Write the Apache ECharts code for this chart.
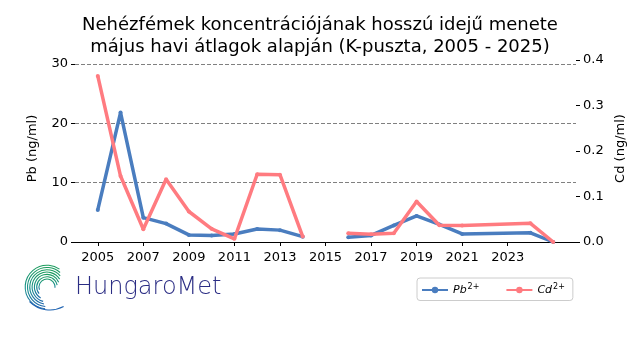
<!DOCTYPE html>
<html>
<head>
<meta charset="utf-8">
<script src="https://cdn.jsdelivr.net/npm/echarts@6/dist/echarts.min.js"></script>
<style>html,body{margin:0;padding:0;background:#fff}#c{width:640px;height:360px}</style>
</head>
<body>
<div id="c"></div>
<script>
const years = [2005,2006,2007,2008,2009,2010,2011,2012,2013,2014,2015,2016,2017,2018,2019,2020,2021,2024,2025];
const pbValues = [5.4,21.8,4.1,3.1,1.2,1.1,1.35,2.2,2.0,0.9,null,0.8,1.1,2.8,4.4,2.95,1.35,1.55,0];
const cdValues = [0.365,0.145,0.028,0.138,0.067,0.029,0.007,0.149,0.148,0.012,null,0.019,0.017,0.019,0.089,0.037,0.036,0.041,0];
const xTickLabels = [2005,2007,2009,2011,2013,2015,2017,2019,2021,2023];
const pbTicks = [0,10,20,30];
const cdTicks = [0,0.1,0.2,0.3,0.4];
const titleText = 'Nehézfémek koncentrációjának hosszú idejű menete\nmájus havi átlagok alapján (K-puszta, 2005 - 2025)';

const pbData = years.map((y,i)=>[y,pbValues[i]]);
const cdData = years.map((y,i)=>[y,cdValues[i]]);

const FONT = 'DejaVu Sans';
const chart = echarts.init(document.getElementById('c'), null, {renderer:'canvas'});

const grad = new echarts.graphic.LinearGradient(0,0,0,1,[
  {offset:0,color:'#1e9e58'},{offset:0.55,color:'#178f8c'},{offset:1,color:'#2062b0'}
], false);
const arcs = [];
const cx = 47, cy = 287;
const rs = [8,10.3,12.6,14.9,17.2,19.5,21.8];
const starts = [160,140,120,105,100,95,95];
const ends = [365,350,338,328,320,312,305];
rs.forEach((r,i)=>{
  arcs.push({type:'arc', shape:{cx:cx, cy:cy, r:r, startAngle:starts[i]*Math.PI/180, endAngle:ends[i]*Math.PI/180, clockwise:true},
    style:{stroke:grad, lineWidth:1.1, fill:null}});
});
arcs.push({type:'arc', shape:{cx:cx+3, cy:cy-6, r:29, startAngle:62*Math.PI/180, endAngle:135*Math.PI/180, clockwise:true},
  style:{stroke:'#2064b2', lineWidth:1.1, fill:null}});

chart.setOption({
  animation:false,
  backgroundColor:'#fff',
  title:{text:titleText, left:'center', top:9,
    textStyle:{fontFamily:FONT, fontSize:18, fontWeight:'normal', color:'#000', lineHeight:22}},
  grid:{left:75, right:64, top:55, bottom:118},
  legend:{
    left:417, top:278, width:151, height:14,
    padding:[5,8,5,4],
    borderColor:'#cccccc', borderWidth:1, borderRadius:3, backgroundColor:'#fff',
    itemWidth:26, itemHeight:8, itemGap:26,
    data:['Pb','Cd'],
    formatter: n => n==='Pb' ? '{i|Pb}{s|2+}' : '{i|Cd}{s|2+}',
    textStyle:{fontFamily:FONT, fontSize:11, color:'#000',
      rich:{i:{fontFamily:FONT, fontStyle:'italic', fontSize:11, color:'#000'},
            s:{fontFamily:FONT, fontSize:8, color:'#000', verticalAlign:'top', padding:[0,0,6,1]}}}
  },
  xAxis:{type:'value', min:2004, max:2026,
    axisLine:{show:true, lineStyle:{color:'#000', width:1}},
    axisTick:{show:true, customValues:xTickLabels, length:4, lineStyle:{color:'#000'}},
    axisLabel:{customValues:xTickLabels, fontFamily:FONT, fontSize:13, color:'#000', margin:9,
      formatter:v=>String(v)},
    splitLine:{show:false}},
  yAxis:[
    {type:'value', min:0, max:31.5, interval:10, position:'left',
      name:'Pb (ng/ml)', nameLocation:'middle', nameRotate:90, nameGap:36,
      nameTextStyle:{fontFamily:FONT, fontSize:13, color:'#000'},
      axisLine:{show:false},
      axisTick:{show:true, customValues:pbTicks, length:4, lineStyle:{color:'#000'}},
      axisLabel:{customValues:pbTicks, fontFamily:FONT, fontSize:13, color:'#000', margin:7},
      splitLine:{show:true, showMinLine:false, showMaxLine:true,
        lineStyle:{color:'#808080', type:[4,2], width:1}}},
    {type:'value', min:0, max:0.411, interval:0.1, position:'right',
      name:'Cd (ng/ml)', nameLocation:'middle', nameRotate:90, nameGap:32,
      nameTextStyle:{fontFamily:FONT, fontSize:13, color:'#000'},
      axisLine:{show:false},
      axisTick:{show:true, customValues:cdTicks, length:4, lineStyle:{color:'#000'}},
      axisLabel:{customValues:cdTicks, fontFamily:FONT, fontSize:13, color:'#000', margin:7,
        formatter:v=>v.toFixed(1)},
      splitLine:{show:false}}
  ],
  series:[
    {name:'Pb', type:'line', yAxisIndex:0, data:pbData, connectNulls:false,
      symbol:'circle', symbolSize:4, showSymbol:true,
      itemStyle:{color:'#4a7dbf'}, lineStyle:{color:'#4a7dbf', width:3.5}, z:2},
    {name:'Cd', type:'line', yAxisIndex:1, data:cdData, connectNulls:false,
      symbol:'circle', symbolSize:4, showSymbol:true,
      itemStyle:{color:'#ff7b80'}, lineStyle:{color:'#ff7b80', width:3.5}, z:3}
  ],
  graphic:[
    {type:'group', children:arcs},
    {type:'text', x:75, y:288,
      style:{text:'HungaroMet', fontFamily:FONT, fontWeight:200, fontSize:24, fill:'#2b2d84', verticalAlign:'middle'}}
  ]
});
</script>
</body>
</html>
